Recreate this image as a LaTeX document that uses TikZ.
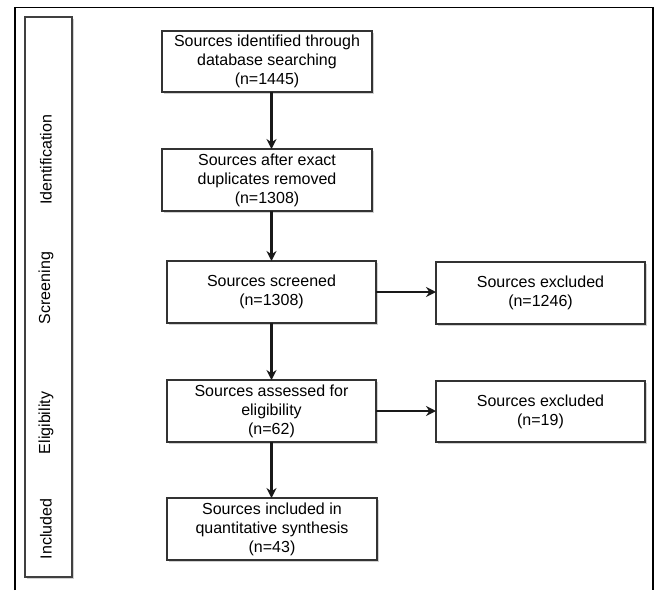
\documentclass[tikz,border=0pt]{standalone}
\usepackage{fontspec}
\setmainfont{Liberation Sans}
\usetikzlibrary{arrows.meta,shadows}
\begin{document}
\begin{tikzpicture}[x=1pt,y=-1pt,
  flowbox/.style={draw=black!80, line width=1.3pt, fill=white, inner sep=0pt, outer sep=0pt,
    align=center, font=\fontsize{16}{19}\selectfont,
    drop shadow={shadow xshift=1.5pt, shadow yshift=-1.5pt, fill=black!30, opacity=0.6}},
  stagebox/.style={draw=black!75, line width=1.3pt, fill=white, inner sep=0pt, outer sep=0pt,
    drop shadow={shadow xshift=1.5pt, shadow yshift=-1.5pt, fill=black!30, opacity=0.6}},
  stagelabel/.style={rotate=90, font=\fontsize{16}{19}\selectfont, inner sep=0pt},
  arr/.style={-{Stealth[length=10pt,width=10pt]}, line width=2.9pt, black!90},
  frame/.style={line width=1.4pt, black}
]
\useasboundingbox (0,0) rectangle (657,590);
% outer frame (open at bottom)
\coordinate (fbl) at (15,590);
\coordinate (ftl) at (15,7.5);
\coordinate (ftr) at (653,7.5);
\coordinate (fbr) at (653,590);
\draw[frame] (fbl) -- (ftl) -- (ftr) -- (fbr);
% stage box
\node[stagebox, minimum width=47pt, minimum height=560pt] (stages) at (48.5,297) {};
\node[stagelabel] (lid) at (46,160) {Identification};
\node[stagelabel] (lsc) at (46,288) {Screening};
\node[stagelabel] (lel) at (46,423) {Eligibility};
\node[stagelabel] (lin) at (46,529) {Included};
% flow boxes
\node[flowbox, minimum width=210pt, minimum height=61pt] (b1) at (267,61.5)
  {Sources identified through\\database searching\\(n=1445)};
\node[flowbox, minimum width=210pt, minimum height=62pt] (b2) at (267,180)
  {Sources after exact\\duplicates removed\\(n=1308)};
\node[flowbox, minimum width=209pt, minimum height=62pt] (b3) at (271.5,292)
  {Sources screened\\(n=1308)};
\node[flowbox, minimum width=209pt, minimum height=62pt] (b4) at (271.5,411)
  {Sources assessed for\\eligibility\\(n=62)};
\node[flowbox, minimum width=210pt, minimum height=62pt] (b5) at (272,529)
  {Sources included in\\quantitative synthesis\\(n=43)};
\node[flowbox, minimum width=209pt, minimum height=62pt] (e1) at (540.5,293)
  {Sources excluded\\(n=1246)};
\node[flowbox, minimum width=209pt, minimum height=61pt] (e2) at (540.5,411.5)
  {Sources excluded\\(n=19)};
% arrows
\draw[arr] (b1.south -| b3) -- (b2.north -| b3);
\draw[arr] (b2.south -| b3) -- (b3.north);
\draw[arr] (b3.south) -- (b4.north);
\draw[arr] (b4.south) -- (b5.north -| b4);
\draw[arr] (b3.east) -- (e1.west |- b3);
\draw[arr] (b4.east) -- (e2.west |- b4);
\end{tikzpicture}
\end{document}
